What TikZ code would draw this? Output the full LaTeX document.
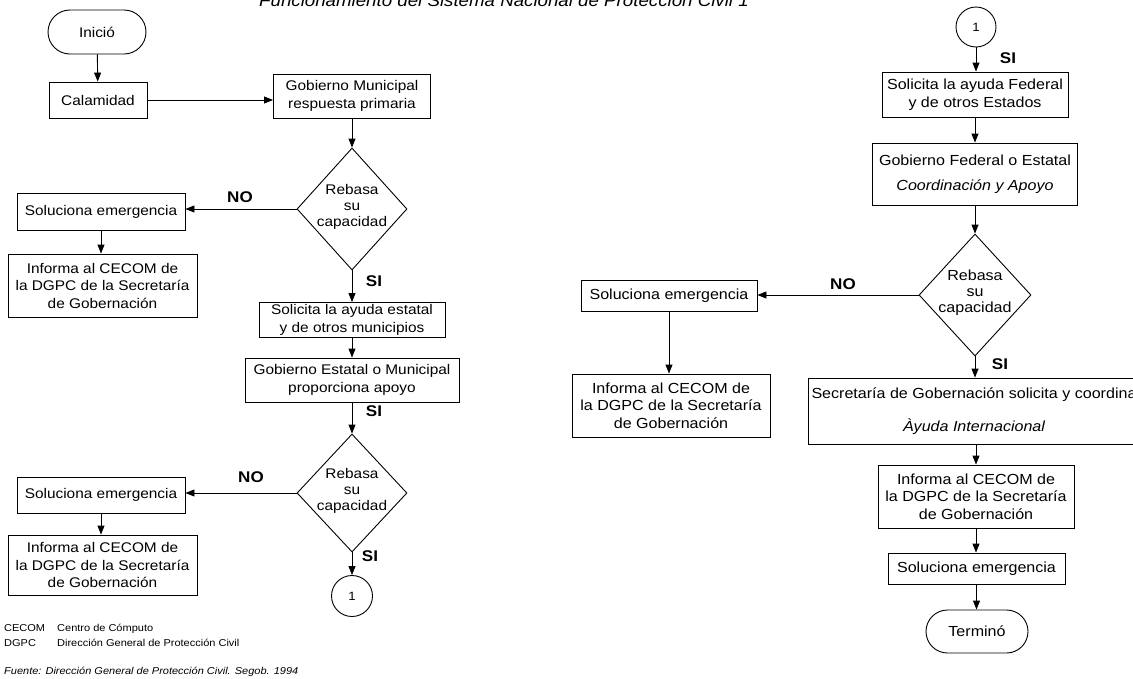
\documentclass[tikz,border=0pt]{standalone}
\usepackage{fontspec}
\setmainfont{Liberation Sans}
\newfontfamily\mfont[FakeStretch=1.1]{Liberation Sans}
\usetikzlibrary{arrows.meta,shapes.geometric,shapes.misc}
\begin{document}
\begin{tikzpicture}[x=1pt,y=-1pt,
  lt/.style={font=\mfont\fontsize{14}{17.5}\selectfont},
  rt/.style={font=\mfont\fontsize{14.6}{17.5}\selectfont},
  dt/.style={font=\mfont\fontsize{14}{16}\selectfont, align=center, inner sep=0pt},
  box/.style={draw, line width=0.9pt, inner sep=0pt, align=center},
  dia/.style={draw, diamond, line width=0.9pt, inner sep=0pt, minimum width=110, minimum height=122},
  termbox/.style={draw, rounded rectangle, line width=0.9pt, inner sep=0pt},
  conn/.style={draw, circle, line width=0.9pt, inner sep=0pt, font=\mfont\fontsize{12}{13}\selectfont},
  arr/.style={line width=0.9pt, -{Triangle[length=9pt,width=7pt]}},
  lab/.style={font=\mfont\fontsize{15.5}{16}\selectfont\bfseries, inner sep=0pt},
  leg/.style={font=\mfont\fontsize{10}{11}\selectfont, anchor=base west, inner sep=0pt},
]
\useasboundingbox[fill=white] (0,0) rectangle (1133,678);

% title
\node[anchor=base west, inner sep=0pt, font=\mfont\fontsize{17}{20}\selectfont\itshape] (title) at (259,6.5) {Funcionamiento del Sistema Nacional de Protección Civil 1};

% ---------- left column ----------
\node[termbox, lt, minimum width=98, minimum height=44] (ini) at (97,32) {Inició};
\node[box, lt, minimum width=98, minimum height=36] (cal) at (98,100) {Calamidad};
\node[box, lt, minimum width=157, minimum height=44] (gm) at (352,96) {Gobierno Municipal\\respuesta primaria};
\node[dia] (d1) at (352,209) {};
\node[dt] (d1t) at (352,207) {Rebasa\\su\\capacidad};
\node[box, lt, minimum width=168, minimum height=37] (sol1) at (101,211.5) {Soluciona emergencia};
\node[box, lt, minimum width=189, minimum height=63] (inf1) at (102.5,285.5) {Informa al CECOM de\\la DGPC de la Secretaría\\de Gobernación};
\node[box, lt, minimum width=186, minimum height=35] (sa) at (352,320) {Solicita la ayuda estatal\\y de otros municipios};
\node[box, lt, minimum width=214, minimum height=44] (ge) at (352,380) {Gobierno Estatal o Municipal\\proporciona apoyo};
\node[dia, minimum height=118] (d2) at (352,493) {};
\node[dt] (d2t) at (352,491) {Rebasa\\su\\capacidad};
\node[box, lt, minimum width=168, minimum height=36] (sol2) at (101,495) {Soluciona emergencia};
\node[box, lt, minimum width=189, minimum height=60] (inf2) at (102.5,565) {Informa al CECOM de\\la DGPC de la Secretaría\\de Gobernación};
\node[conn, minimum size=41] (c1) at (352,596) {1};

\node[lab] (no1) at (240,197) {NO};
\node[lab] (si1) at (374,281) {SI};
\node[lab] (si2) at (374,411) {SI};
\node[lab] (no2) at (251,477) {NO};
\node[lab] (si3) at (370,556) {SI};

% legend
\node[leg] (cecom) at (4,631) {CECOM};
\node[leg] (cecomd) at (57,631) {Centro de Cómputo};
\node[leg] (dgpc) at (4,646) {DGPC};
\node[leg] (dgpcd) at (57,646) {Dirección General de Protección Civil};
\node[leg, font=\mfont\fontsize{10}{11}\selectfont\itshape] (fuente) at (4,674) {Fuente: Dirección General de Protección Civil. Segob. 1994};

% ---------- right column ----------
\node[conn, minimum size=40] (c2) at (976,27) {1};
\node[box, rt, minimum width=186, minimum height=45] (sf) at (975,94.5) {Solicita la ayuda Federal\\y de otros Estados};
\node[box, rt, minimum width=205, minimum height=62] (gf) at (975,174) {Gobierno Federal o Estatal\\[8pt]\itshape Coordinación y Apoyo};
\node[dia, minimum width=112] (d3) at (975,295) {};
\node[dt, font=\mfont\fontsize{14.6}{16}\selectfont] (d3t) at (975,293) {Rebasa\\su\\capacidad};
\node[box, rt, minimum width=176, minimum height=31] (sol3) at (669,295.5) {Soluciona emergencia};
\node[box, rt, minimum width=198, minimum height=63] (inf3) at (671,405.5) {Informa al CECOM de\\la DGPC de la Secretaría\\de Gobernación};
\node[box, rt, minimum width=332, minimum height=66] (sg) at (974,411) {Secretaría de Gobernación solicita y coordina\\[15pt]\itshape Àyuda Internacional};
\node[box, rt, minimum width=196, minimum height=63] (inf4) at (976,496.5) {Informa al CECOM de\\la DGPC de la Secretaría\\de Gobernación};
\node[box, rt, minimum width=177, minimum height=31] (sol4) at (976.5,568.5) {Soluciona emergencia};
\node[termbox, rt, minimum width=102, minimum height=43] (fin) at (977,631.5) {Terminó};

\node[lab] (si4) at (1008,58) {SI};
\node[lab] (no3) at (843,284) {NO};
\node[lab] (si5) at (1000,364) {SI};

% ---------- connectors ----------
\draw[arr] (ini) -- (cal);
\draw[arr] (cal.east) -- (cal.east -| gm.west);
\draw[arr] (gm) -- (d1);
\draw[arr] (d1.west) -- (d1.west -| sol1.east);
\draw[arr] (sol1.south) -- (sol1.south |- inf1.north);
\draw[arr] (d1) -- (sa);
\draw[arr] (sa) -- (ge);
\draw[arr] (ge) -- (d2);
\draw[arr] (d2.west) -- (d2.west -| sol2.east);
\draw[arr] (sol2.south) -- (sol2.south |- inf2.north);
\draw[arr] (d2) -- (c1);

\draw[arr] (c2.south) -- (c2.south |- sf.north);
\draw[arr] (sf) -- (gf);
\draw[arr] (gf) -- (d3);
\draw[arr] (d3.west) -- (d3.west -| sol3.east);
\draw[arr] (sol3.south) -- (sol3.south |- inf3.north);
\draw[arr] (d3.south) -- (d3.south |- sg.north);
\draw[arr] (inf4.north |- sg.south) -- (inf4.north);
\draw[arr] (inf4.south) -- (inf4.south |- sol4.north);
\draw[arr] (sol4.south) -- (sol4.south |- fin.north);
\end{tikzpicture}
\end{document}
